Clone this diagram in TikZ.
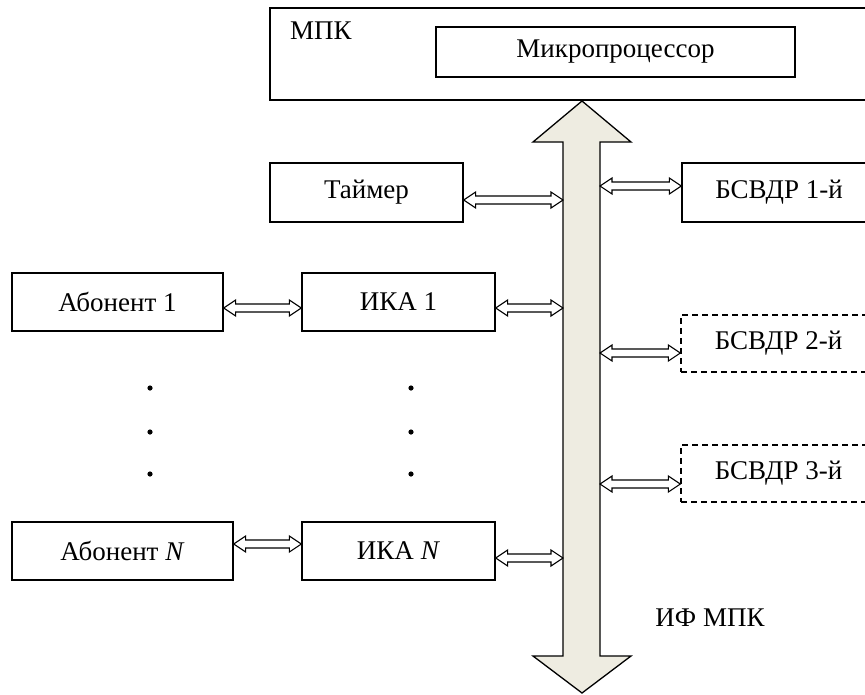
\documentclass[tikz,border=0pt]{standalone}
\usepackage{fontspec}
\setmainfont{Liberation Serif}
\usetikzlibrary{calc}
\definecolor{busfill}{RGB}{238,236,225}
% #1 left end, #2 right end, #3 point giving the height
\newcommand\dblarr[3]{%
  \draw[dblline] let \p1=(#1), \p2=(#2), \p3=(#3) in
    (\x1,\y3) -- (\x1+12pt,\y3+8pt) -- (\x1+12pt,\y3+4pt) -- (\x2-12pt,\y3+4pt)
    -- (\x2-12pt,\y3+8pt) -- (\x2,\y3) -- (\x2-12pt,\y3-8pt) -- (\x2-12pt,\y3-4pt)
    -- (\x1+12pt,\y3-4pt) -- (\x1+12pt,\y3-8pt) -- cycle;}
\begin{document}
\begin{tikzpicture}[x=1pt,y=-1pt,
  txt/.style={font=\fontsize{27}{32}\selectfont, inner sep=0pt},
  box/.style={txt, draw, line width=1.3pt, minimum width=#1, minimum height=58pt},
  dbox/.style={box=#1, dash pattern=on 6pt off 4pt},
  dblline/.style={draw, fill=white, line width=1.1pt, line join=miter},
  bus/.style={draw, fill=busfill, line width=1.3pt, line join=miter}]
\clip (0,0) rectangle (865,694);
% MPK block
\node[draw, line width=1.3pt, minimum width=602pt, minimum height=92pt, inner sep=0pt] (mpk) at (571,54) {};
\node[txt, anchor=west] (mpklab) at (290,31) {МПК};
\node[box=359pt, minimum height=50pt] (mp) at (615.5,52) {Микропроцессор};
% bus
\draw[bus] (582,101) -- (631,142) -- (600,142) -- (600,656) -- (631,656) -- (582,693)
  -- (533,656) -- (563,656) -- (563,142) -- (533,142) -- cycle;
\coordinate (busL) at (563,300);
\coordinate (busR) at (600,300);
\node[txt] (iflab) at (710,618) {ИФ МПК};
% blocks
\node[box=193pt, minimum height=59pt] (tai) at (366.5,192.5) {Таймер};
\node[box=194pt, minimum height=59pt] (b1) at (779,192.5) {БСВДР 1-й};
\node[box=211pt] (ab1) at (117.5,302) {Абонент 1};
\node[box=193pt] (ika1) at (398.5,302) {ИКА 1};
\node[dbox=195pt, minimum height=57pt] (b2) at (778.5,343.5) {БСВДР 2-й};
\node[dbox=195pt, minimum height=57pt] (b3) at (778.5,473.5) {БСВДР 3-й};
\node[box=221pt] (abN) at (122.5,551) {Абонент \textit{N}};
\node[box=193pt] (ikaN) at (398.5,551) {ИКА \textit{N}};
% dots
\foreach \yy in {388,432,474} {
  \fill (150,\yy) circle (2.6pt);
  \fill (411,\yy) circle (2.6pt);
}
% connectors
\dblarr{tai.east}{busL}{[yshift=-7.5pt]tai.east}
\dblarr{busR}{b1.west}{[yshift=6.5pt]b1.west}
\dblarr{ab1.east}{ika1.west}{[yshift=-6pt]ab1.east}
\dblarr{ika1.east}{busL}{[yshift=-6pt]ika1.east}
\dblarr{busR}{b2.west}{[yshift=-9.5pt]b2.west}
\dblarr{busR}{b3.west}{[yshift=-10.5pt]b3.west}
\dblarr{abN.east}{ikaN.west}{[yshift=7pt]abN.east}
\dblarr{ikaN.east}{busL}{[yshift=-7pt]ikaN.east}
\end{tikzpicture}
\end{document}
